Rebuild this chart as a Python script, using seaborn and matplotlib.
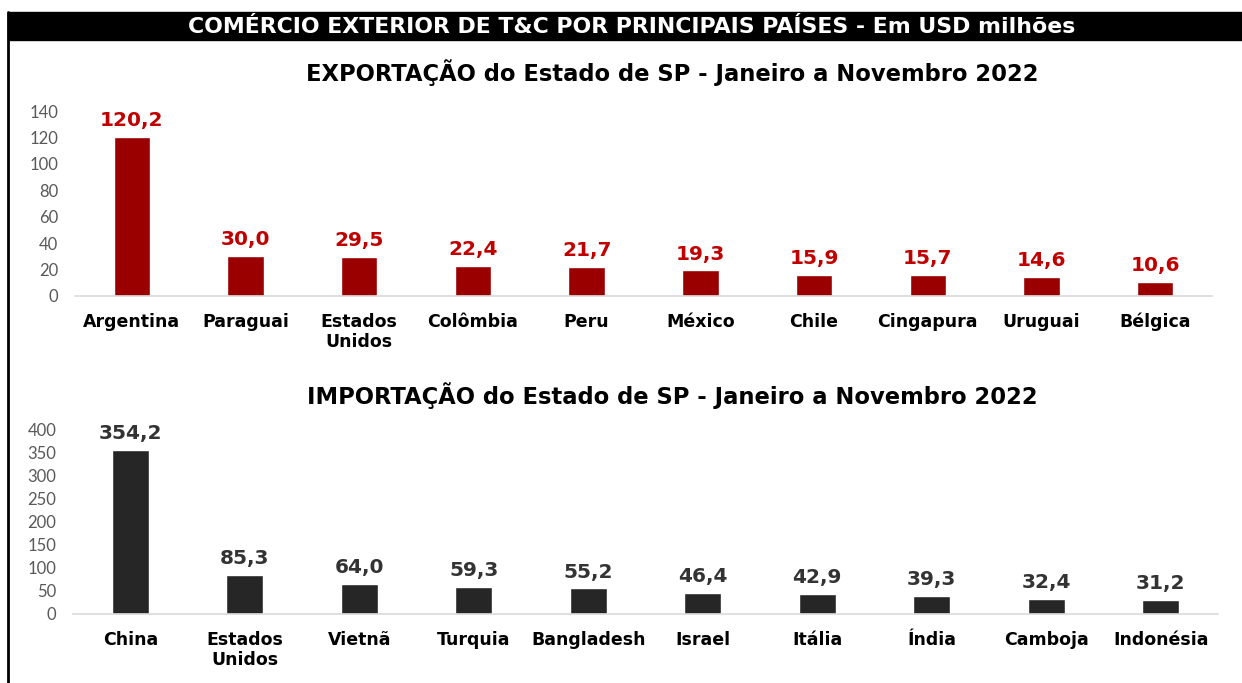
import matplotlib
matplotlib.use("Agg")
import matplotlib.pyplot as plt
import seaborn as sns
import pandas as pd
from matplotlib.patches import Rectangle
from matplotlib.lines import Line2D

# dados - Em USD milhoes
exp_paises = ['Argentina', 'Paraguai', 'Estados\nUnidos', 'Colômbia', 'Peru',
              'México', 'Chile', 'Cingapura', 'Uruguai', 'Bélgica']
exp_valores = [120.2, 30.0, 29.5, 22.4, 21.7, 19.3, 15.9, 15.7, 14.6, 10.6]

imp_paises = ['China', 'Estados\nUnidos', 'Vietnã', 'Turquia', 'Bangladesh',
              'Israel', 'Itália', 'Índia', 'Camboja', 'Indonésia']
imp_valores = [354.2, 85.3, 64.0, 59.3, 55.2, 46.4, 42.9, 39.3, 32.4, 31.2]

exp_ticks = [0, 20, 40, 60, 80, 100, 120, 140]
imp_ticks = [0, 50, 100, 150, 200, 250, 300, 350, 400]

sns.set_style("white")
plt.rcParams['font.family'] = ['DejaVu Sans']

W, H = 1242, 683
fig = plt.figure(figsize=(W / 100, H / 100), dpi=100)

# faixa preta do titulo + borda esquerda
fig.patches.append(Rectangle((8 / W, 1 - 40 / H), 1 - 8 / W, 28 / H,
                             transform=fig.transFigure, color='black', zorder=0))
fig.add_artist(Line2D([8 / W, 8 / W], [0, 1 - 12 / H], transform=fig.transFigure,
                      color='black', lw=2))
fig.text(632 / W, 1 - 27 / H, 'COMÉRCIO EXTERIOR DE T&C POR PRINCIPAIS PAÍSES - Em USD milhões',
         color='white', fontsize=15.8, fontweight='bold', ha='center', va='center')


def painel(rect, paises, valores, ticks, cor_barra, cor_txt, titulo, titulo_y):
    ax = fig.add_axes(rect)
    df = pd.DataFrame({'pais': paises, 'valor': valores})
    sns.barplot(data=df, x='pais', y='valor', color=cor_barra, width=0.32,
                saturation=1, ax=ax)
    ax.set_xlim(-0.5, len(paises) - 0.5)
    ax.set_ylim(ticks[0], ticks[-1])
    ax.set_yticks(ticks)
    ax.tick_params(axis='y', length=0, labelsize=12, labelcolor='#595959', pad=12,
                   labelfontfamily='Lato')
    ax.tick_params(axis='x', length=0, pad=12)
    for lbl in ax.get_xticklabels():
        lbl.set_fontsize(12.5)
        lbl.set_fontweight('bold')
        lbl.set_color('black')
        lbl.set_linespacing(1.15)
    ax.set_xlabel('')
    ax.set_ylabel('')
    sns.despine(ax=ax, left=True)
    ax.spines['bottom'].set_color('#d9d9d9')
    ax.spines['bottom'].set_linewidth(1.2)
    rotulos = [f'{v:.1f}'.replace('.', ',') for v in valores]
    ax.bar_label(ax.containers[0], labels=rotulos, padding=5, fontsize=14.5,
                 fontweight='bold', color=cor_txt)
    fig.text(672 / W, 1 - titulo_y / H, titulo, fontsize=16.3, fontweight='bold',
             ha='center', va='center', color='black')
    return ax


painel([75 / W, 1 - 296 / H, 1137 / W, 185 / H], exp_paises, exp_valores, exp_ticks,
       '#9b0000', '#c00000',
       'EXPORTAÇÃO do Estado de SP - Janeiro a Novembro 2022', 73)
painel([73 / W, 1 - 614 / H, 1145 / W, 185 / H], imp_paises, imp_valores, imp_ticks,
       '#262626', '#333333',
       'IMPORTAÇÃO do Estado de SP - Janeiro a Novembro 2022', 396)

fig.savefig('out.png', dpi=100)
